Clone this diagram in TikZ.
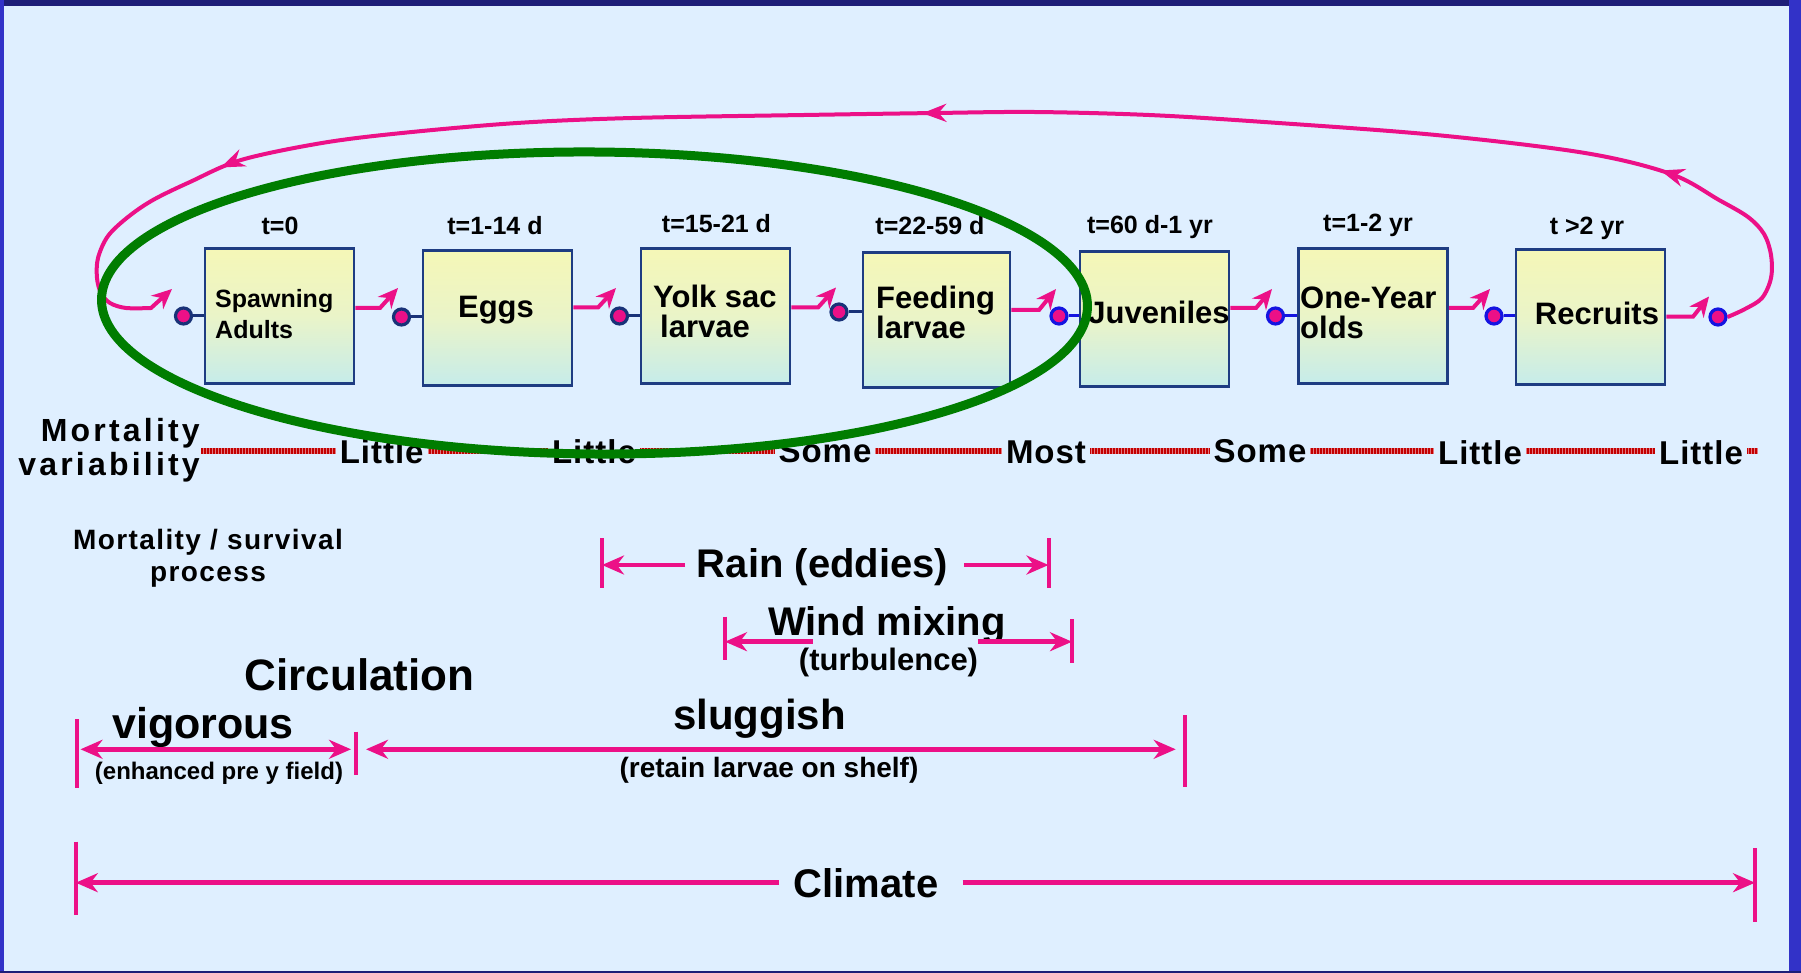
\documentclass[tikz,border=0pt]{standalone}
\usepackage{fontspec}
\setmainfont{Liberation Sans}
\newfontfamily\lsA[LetterSpace=10]{Liberation Sans}
\newfontfamily\lsB[LetterSpace=3]{Liberation Sans}
\newfontfamily\lsC[LetterSpace=5]{Liberation Sans}
\usetikzlibrary{arrows.meta,decorations.markings,calc}
\definecolor{bg}{RGB}{223,239,255}
\definecolor{pk}{RGB}{236,16,135}
\definecolor{boxc}{RGB}{30,60,130}
\definecolor{navyc}{RGB}{25,50,120}
\definecolor{bluec}{RGB}{20,20,225}
\definecolor{redd}{RGB}{195,0,0}
\definecolor{redl}{RGB}{225,120,130}
\definecolor{grn}{RGB}{0,125,0}
\definecolor{topband}{RGB}{30,30,120}
\definecolor{sideband}{RGB}{50,50,200}
\definecolor{byel}{RGB}{245,247,183}
\definecolor{bmid}{RGB}{234,244,200}
\definecolor{bcya}{RGB}{198,236,234}
\begin{document}
\begin{tikzpicture}[x=1pt,y=-1pt,
  box/.style={draw=boxc, line width=2.5pt, minimum width=149pt, minimum height=135pt, inner sep=0pt, top color=byel, bottom color=bcya, middle color=bmid},
  lab/.style={font=\bfseries\fontsize{31pt}{30pt}\selectfont, align=left, inner sep=0pt},
  tl/.style={font=\bfseries\fontsize{25pt}{25pt}\selectfont, inner sep=0pt, anchor=base},
  ml/.style={font=\lsB\bfseries\fontsize{33pt}{33pt}\selectfont, fill=bg, inner xsep=4pt, inner ysep=2pt, anchor=base},
  dt/.style={font=\bfseries\fontsize{#1}{#1}\selectfont, inner sep=0pt, anchor=base},
  flow/.style={draw=pk, line width=4pt, -{Stealth[length=20pt,width=18pt]}},
  conv/.style={circle, fill=pk, draw=#1, line width=3.2pt, minimum size=16pt, inner sep=0pt},
  link/.style={draw=#1, line width=3pt},
  dotbase/.style={draw=redl, line width=6pt},
  dotr/.style={draw=redd, line width=6pt, dash pattern=on 1.5pt off 1.5pt},
  dim/.style={draw=pk, line width=4.5pt},
  dtip/.style={-{Stealth[length=22pt,width=19pt]}},
  ddtip/.style={{Stealth[length=22pt,width=19pt]}-{Stealth[length=22pt,width=19pt]}},
  tick/.style={draw=pk, line width=4pt},
  looparr/.style={decoration={markings,
     mark=at position 230pt with {\arrow{Stealth[length=24pt,width=18pt]}},
     mark=at position 972pt with {\arrow{Stealth[length=24pt,width=18pt]}},
     mark=at position 1678pt with {\arrow{Stealth[length=24pt,width=18pt]}}},
     postaction={decorate}}
]
\useasboundingbox (0,0) rectangle (1801,973);
\fill[bg] (0,0) rectangle (1801,973);
\fill[topband] (0,0) rectangle (1801,6);
\fill[sideband] (0,0) rectangle (4,973);
\fill[sideband] (1789,0) rectangle (1801,973);
\fill[topband] (0,971) rectangle (1801,973);

% boxes
\node[box] (sp) at (279.5,316) {};
\node[box] (eg) at (497.5,318) {};
\node[box] (yo) at (715.5,316) {};
\node[box, minimum width=147pt] (fe) at (936.5,320) {};
\node[box] (ju) at (1154.5,319) {};
\node[box] (on) at (1373,316) {};
\node[box] (re) at (1590.5,317) {};

% box labels
\node[lab, font=\bfseries\fontsize{25pt}{31pt}\selectfont, anchor=west] (spT) at (215,314.5) {Spawning\\Adults};
\node[lab, anchor=base] (egT) at (496,318) {Eggs};
\node[lab, anchor=west] (yoT) at (653,311.5) {Yolk sac\\\hspace*{7pt}larvae};
\node[lab, anchor=west] (feT) at (876,312.6) {Feeding\\larvae};
\node[lab, anchor=base] (juT) at (1159,324) {Juveniles};
\node[lab, anchor=west] (onT) at (1300,313) {One-Year\\olds};
\node[lab, anchor=base] (reT) at (1597,325) {Recruits};

% time labels
\node[tl] (ts0) at (280,235) {t=0};
\node[tl] (ts1) at (495,235) {t=1-14 d};
\node[tl] (ts2) at (716.5,232.5) {t=15-21 d};
\node[tl] (ts3) at (930,235) {t=22-59 d};
\node[tl] (ts4) at (1150,233.5) {t=60 d-1 yr};
\node[tl] (ts5) at (1368,232) {t=1-2 yr};
\node[tl] (ts6) at (1587,235) {t >2 yr};

% converters
\node[conv=navyc] (c0) at (183.5,316) {};
\node[conv=navyc] (c1) at (401.5,317) {};
\node[conv=navyc] (c2) at (619.5,316) {};
\node[conv=navyc] (c3) at (839,312) {};
\node[conv=bluec] (c4) at (1059,316) {};
\node[conv=bluec] (c5) at (1275.5,316) {};
\node[conv=bluec] (c6) at (1494,316) {};
\node[conv=bluec] (c7) at (1718,317) {};

\draw[link=navyc] (c0.east) -- (sp.west |- c0);
\draw[link=navyc] (c1.east) -- (eg.west |- c1);
\draw[link=navyc] (c2.east) -- (yo.west |- c2);
\draw[link=navyc] (c3.east) -- (fe.west |- c3);
\draw[link=bluec] (c4.east) -- (ju.west |- c4);
\draw[link=bluec] (c5.east) -- (on.west |- c5);
\draw[link=bluec] (c6.east) -- (re.west |- c6);

% flow connectors
\coordinate (fp1) at (380,308);    \coordinate (tp1) at (398,288);
\coordinate (fp2) at (598,307.5);  \coordinate (tp2) at (616,288);
\coordinate (fp3) at (818,307.5);  \coordinate (tp3) at (836,287.5);
\coordinate (fp4) at (1039,310);   \coordinate (tp4) at (1056,289);
\coordinate (fp5) at (1256,308);   \coordinate (tp5) at (1272,289);
\coordinate (fp6) at (1473,308);   \coordinate (tp6) at (1490,289);
\coordinate (fp7) at (1693,316.7); \coordinate (tp7) at (1709,296.5);
\coordinate (fp0) at (151,308);    \coordinate (tp0) at (172,289);
\draw[flow] (sp.east |- fp1) -- (fp1) -- (tp1);
\draw[flow] (eg.east |- fp2) -- (fp2) -- (tp2);
\draw[flow] (yo.east |- fp3) -- (fp3) -- (tp3);
\draw[flow] (fe.east |- fp4) -- (fp4) -- (tp4);
\draw[flow] (ju.east |- fp5) -- (fp5) -- (tp5);
\draw[flow] (on.east |- fp6) -- (fp6) -- (tp6);
\draw[flow] (re.east |- fp7) -- (fp7) -- (tp7);

% feedback loop
\draw[flow, looparr] plot[smooth, tension=0.55] coordinates {(c7.east) (1745,309) (1762,298) (1771,278) (1771,255) (1764,234) (1748,217) (1719,200) (1671,174) (1585,153) (1436,135) (1264,122) (1149,115) (1034,112) (936,113) (804,115) (632,118) (517,123) (402,133) (322,143) (241,160) (190,182) (153,200) (128,217) (108,236) (98,258) (97,278) (101,293) (110,303) (126,308) (fp0)} -- (tp0);

% mortality variability row
\coordinate (mr0) at (201,451);
\coordinate (mr1) at (1758,451);
\draw[dotbase] (mr0) -- (mr1);
\draw[dotr] (mr0) -- (mr1);
\node[font=\lsA\bfseries\fontsize{32pt}{33.5pt}\selectfont, align=right, anchor=east, inner sep=0pt] (mv) at (200,450) {Mortality\\variability};
\node[ml] (m1) at (381.7,463) {Little};
\node[ml] (m2) at (594,463) {Little};
\node[ml] (m3) at (825,462) {Some};
\node[ml] (m4) at (1046,463) {Most};
\node[ml] (m5) at (1260,462) {Some};
\node[ml] (m6) at (1480,464) {Little};
\node[ml] (m7) at (1701,464) {Little};

\node[font=\lsC\bfseries\fontsize{28pt}{32pt}\selectfont, align=center, inner sep=0pt] (msp) at (208,558) {Mortality / survival\\process};

% Rain
\node[dt=40pt] (rain) at (822.5,577) {Rain (eddies)};
\coordinate (rainL) at (602,565);
\coordinate (rainR) at (1048.5,565);
\coordinate (rsL) at (685,565);
\coordinate (rsR) at (964,565);
\draw[tick] (rainL) ++(0,-27) -- ++(0,50);
\draw[tick] (rainR) ++(0,-27) -- ++(0,50);
\draw[dim, dtip] (rsL) -- (rainL);
\draw[dim, dtip] (rsR) -- (rainR);

% Wind mixing
\node[dt=40pt] (wind) at (887,635) {Wind mixing};
\node[dt=31pt] (turb) at (888.5,670) {(turbulence)};
\coordinate (windL) at (725,641.7);
\coordinate (windR) at (1072,641.7);
\coordinate (wsL) at (812.7,641.7);
\coordinate (wsR) at (978,641.7);
\draw[tick] (windL) ++(0,-25) -- ++(0,43.5);
\draw[tick] (windR) ++(0,-22.7) -- ++(0,43.7);
\draw[dim, dtip] (wsL) -- (windL);
\draw[dim, dtip] (wsR) -- (windR);

% Circulation
\node[dt=44pt] (circ) at (359.5,690) {Circulation};
\node[dt=43pt] (vig) at (203,738.3) {vigorous};
\node[dt=42pt] (slug) at (759.6,729.3) {sluggish};
\node[dt=24pt] (enh) at (219,779.3) {(enhanced pre y field)};
\node[dt=28pt] (ret) at (769,777) {(retain larvae on shelf)};
\coordinate (cL) at (76.5,749.3);
\coordinate (cM) at (356,749.3);
\coordinate (cR) at (1184.7,749.3);
\draw[tick] (cL) ++(0,-30.3) -- ++(0,68.7);
\draw[tick] (cM) ++(0,-17.6) -- ++(0,43.3);
\draw[tick] (cR) ++(0,-34.3) -- ++(0,72);
\draw[dim, ddtip, shorten <=4pt, shorten >=5pt] (cL) -- (cM);
\draw[dim, ddtip, shorten <=10pt, shorten >=9pt] (cM) -- (cR);

% Climate
\node[dt=40pt] (clim) at (866,897.3) {Climate};
\coordinate (clL) at (75.8,882.7);
\coordinate (clR) at (1755,882.7);
\coordinate (csL) at (779,882.7);
\coordinate (csR) at (962.6,882.7);
\draw[tick] (clL) ++(0,-41) -- ++(0,73.3);
\draw[tick] (clR) ++(0,-34.7) -- ++(0,73.7);
\draw[dim, dtip] (csL) -- (clL);
\draw[dim, dtip] (csR) -- (clR);

% green ellipse
\draw[grn, line width=9pt, rotate around={-0.4:(594.5,303)}] (594.5,303) ellipse [x radius=493pt, y radius=151pt];
\end{tikzpicture}
\end{document}
